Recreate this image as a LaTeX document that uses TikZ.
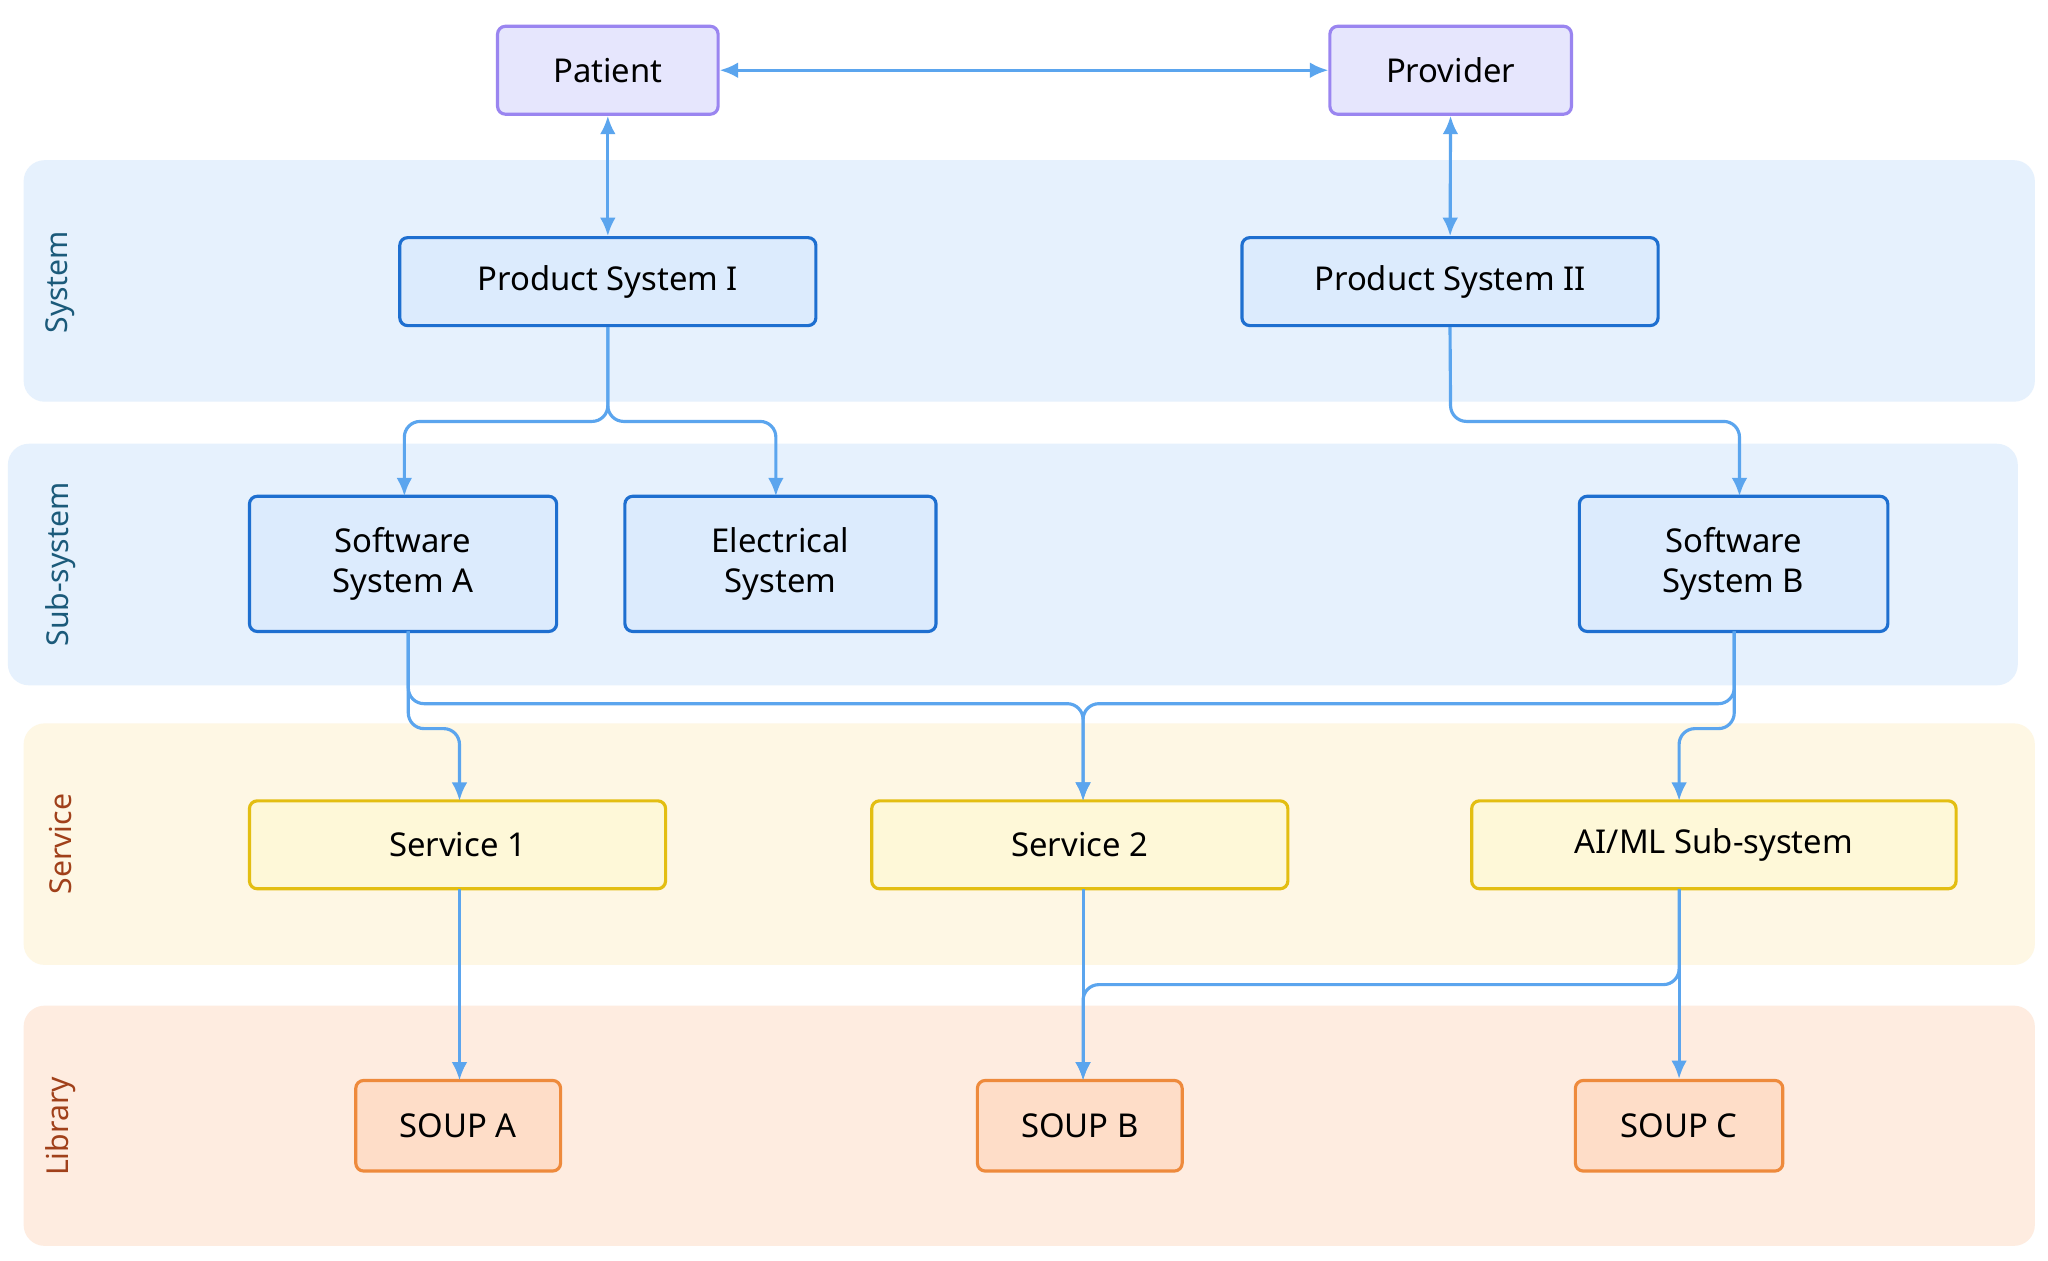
\documentclass[tikz,border=0pt]{standalone}
\usepackage{fontspec}
\setmainfont{Noto Sans}
\usetikzlibrary{arrows.meta}
\definecolor{bandblue}{HTML}{E6F1FD}
\definecolor{bandyel}{HTML}{FEF7E4}
\definecolor{bandpeach}{HTML}{FEECE0}
\definecolor{arrc}{HTML}{5BA5EE}
\tikzset{
 x=0.5pt,y=-0.5pt,
 band/.style={fill=#1,draw=none,rounded corners=8pt},
 blab/.style={rotate=90,font=\fontsize{11.5}{14}\selectfont,text=#1},
 box/.style={draw=#1,line width=1.2pt,rounded corners=3pt,font=\fontsize{12.5}{15}\selectfont,align=center,inner sep=0pt},
 actor/.style={box=violet!60!white,fill={HTML{E6E6FD}}},
 arr/.style={draw=arrc,line width=1.2pt,rounded corners=6pt,-{Latex[length=7pt,width=6pt]}},
 darr/.style={draw=arrc,line width=1.2pt,{Latex[length=7pt,width=6pt]}-{Latex[length=7pt,width=6pt]}},
}
\definecolor{actf}{HTML}{E6E6FD}\definecolor{actd}{HTML}{9A85F0}
\definecolor{sysf}{HTML}{DCEBFD}\definecolor{sysd}{HTML}{1E6FD0}
\definecolor{svf}{HTML}{FEF8D8}\definecolor{svd}{HTML}{E3BE12}
\definecolor{sof}{HTML}{FEDDC8}\definecolor{sod}{HTML}{EE8A3C}
\definecolor{tealt}{HTML}{1B5A7A}\definecolor{redt}{HTML}{A0401A}
\begin{document}
\begin{tikzpicture}
\useasboundingbox[fill=white] (0,0) rectangle (1560,960);
\fill[bandblue,rounded corners=8pt] (18,122) rectangle (1550,306);
\fill[bandblue,rounded corners=8pt] (6,338) rectangle (1537,522);
\fill[bandyel,rounded corners=8pt] (18,551) rectangle (1550,735);
\fill[bandpeach,rounded corners=8pt] (18,766) rectangle (1550,949);
\node[blab=tealt] (lsys) at (46,215) {System};
\node[blab=tealt] (lsub) at (46,430) {Sub-system};
\node[blab=redt] (lsvc) at (46,643) {Service};
\node[blab=redt] (llib) at (46,858) {Library};
\tikzset{
 act/.style={box=actd,fill=actf,minimum height=33.5pt},
 sys/.style={box=sysd,fill=sysf,minimum width=158.5pt,minimum height=33.5pt},
 sub/.style={box=sysd,fill=sysf,minimum height=51.5pt},
 svc/.style={box=svd,fill=svf,minimum height=33.5pt},
 soup/.style={box=sod,fill=sof,minimum height=34.5pt,minimum width=78pt},
}
\node[act,minimum width=84pt] (pat) at (463,53.5) {Patient};
\node[act,minimum width=92pt] (prov) at (1105,53.5) {Provider};
\node[sys] (psi) at (463,214.5) {Product System I};
\node[sys] (psii) at (1104.5,214.5) {Product System II};
\node[sub,minimum width=117pt] (swa) at (307,429.5) {Software\\System A};
\node[sub,minimum width=118.5pt] (el) at (594.5,429.5) {Electrical\\System};
\node[sub,minimum width=117.5pt] (swb) at (1320.5,429.5) {Software\\System B};
\node[svc,minimum width=158.5pt] (s1) at (348.5,643.5) {Service 1};
\node[svc,minimum width=158.5pt] (s2) at (822.5,643.5) {Service 2};
\node[svc,minimum width=184.5pt] (ai) at (1305.5,643.5) {AI/ML Sub-system};
\node[soup] (sa) at (349,857.5) {SOUP A};
\node[soup] (sb) at (822.5,857.5) {SOUP B};
\node[soup,minimum width=79pt] (sc) at (1279,857.5) {SOUP C};
\coordinate (aitop) at (1279,610);
\coordinate (aibot) at (1279,677);
\draw[darr] (pat) -- (prov);
\draw[darr] (pat) -- (psi);
\draw[darr] (prov) -- (psii);
\draw[arr] (psi.south) -- (463,321) -| (308,378);
\draw[arr] (psi.south) -- (463,321) -| (591,378);
\draw[arr] (psii.south) -- (1105,321) -| (1325,378);
\draw[arr] (311,481) -- (311,536) -| (825,610);
\draw[arr] (311,481) -- (311,555) -| (350,610);
\draw[arr] (1321,481) -- (1321,536) -| (825,610);
\draw[arr] (1321,481) -- (1321,555) -| (aitop);
\draw[arr] (350,677) -- (350,823);
\draw[arr] (825,677) -- (825,823);
\draw[arr] (aibot) -- (sc.north);
\draw[arr] (aibot) -- (1279,750) -- (825,750) -- (825,823);
\end{tikzpicture}
\end{document}
